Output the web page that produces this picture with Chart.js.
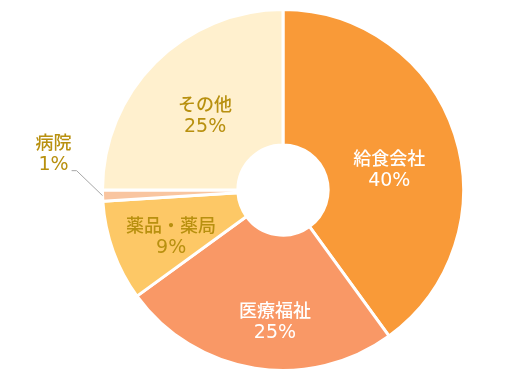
<!DOCTYPE html>
<html>
<head>
<meta charset="utf-8">
<script src="https://cdn.jsdelivr.net/npm/chart.js@4"></script>
<style>
  html, body { margin: 0; padding: 0; background: #fff; }
  #wrap { width: 528px; height: 384px; }
</style>
</head>
<body>
<div id="wrap"><canvas id="grafico" width="528" height="384"></canvas></div>
<script>
const categorias = ['給食会社', '医療福祉', '薬品・薬局', '病院', 'その他']
const valores = [40, 25, 9, 1, 25]
const cores = ['#F99A38', '#F99866', '#FDC866', '#F9C5A0', '#FFF0CE']
const coresTexto = ['#ffffff', '#ffffff', '#B8900F', '#B8900F', '#B8900F']

// ajuste fino da posição do rótulo (fração do raio, desvio do ângulo em graus)
const ajusteRotulo = [[0.6, 7], [0.73, -5.5], [0.67, -2.5], [0, 0], [0.6, -1]]

// rótulos dentro das fatias, e o "病院" fora com linha
const rotulos = {
  id: 'rotulos',
  afterDatasetsDraw(chart) {
    const ctx = chart.ctx
    const meta = chart.getDatasetMeta(0)
    const total = valores.reduce((a, b) => a + b, 0)
    const fonteNome = '500 18px "Noto Sans CJK JP"'
    const fontePct = '19px "DejaVu Sans"'
    ctx.save()
    ctx.textAlign = 'center'
    ctx.textBaseline = 'middle'
    meta.data.forEach((arc, i) => {
      const pct = Math.round(valores[i] / total * 100) + '%'
      const meio = (arc.startAngle + arc.endAngle) / 2
      ctx.fillStyle = coresTexto[i]
      let x, y
      if (valores[i] < 3) {
        const px = arc.x + Math.cos(meio) * arc.outerRadius
        const py = arc.y + Math.sin(meio) * arc.outerRadius
        const cx = px - 26
        const cy = py - 25
        ctx.strokeStyle = '#A6A6A6'
        ctx.lineWidth = 1
        ctx.beginPath()
        ctx.moveTo(px, py)
        ctx.lineTo(cx, cy)
        ctx.lineTo(cx - 5, cy)
        ctx.stroke()
        x = cx - 23
        y = cy - 18
      } else {
        const [f, d] = ajusteRotulo[i]
        const ang = meio + d * Math.PI / 180
        const r = arc.outerRadius * f
        x = arc.x + Math.cos(ang) * r
        y = arc.y + Math.sin(ang) * r
      }
      ctx.font = fonteNome
      ctx.fillText(categorias[i], x, y - 11)
      ctx.font = fontePct
      ctx.fillText(pct, x, y + 12)
    })
    ctx.restore()
  }
}

new Chart(document.getElementById('grafico'), {
  type: 'doughnut',
  data: {
    labels: categorias,
    datasets: [{
      data: valores,
      backgroundColor: cores,
      borderColor: '#ffffff',
      borderWidth: 3
    }]
  },
  options: {
    responsive: false,
    animation: false,
    cutout: '25%',
    layout: { padding: { top: 8, bottom: 12, left: 40, right: 2 } },
    plugins: {
      legend: { display: false },
      tooltip: { enabled: false }
    }
  },
  plugins: [rotulos]
})
</script>
</body>
</html>
